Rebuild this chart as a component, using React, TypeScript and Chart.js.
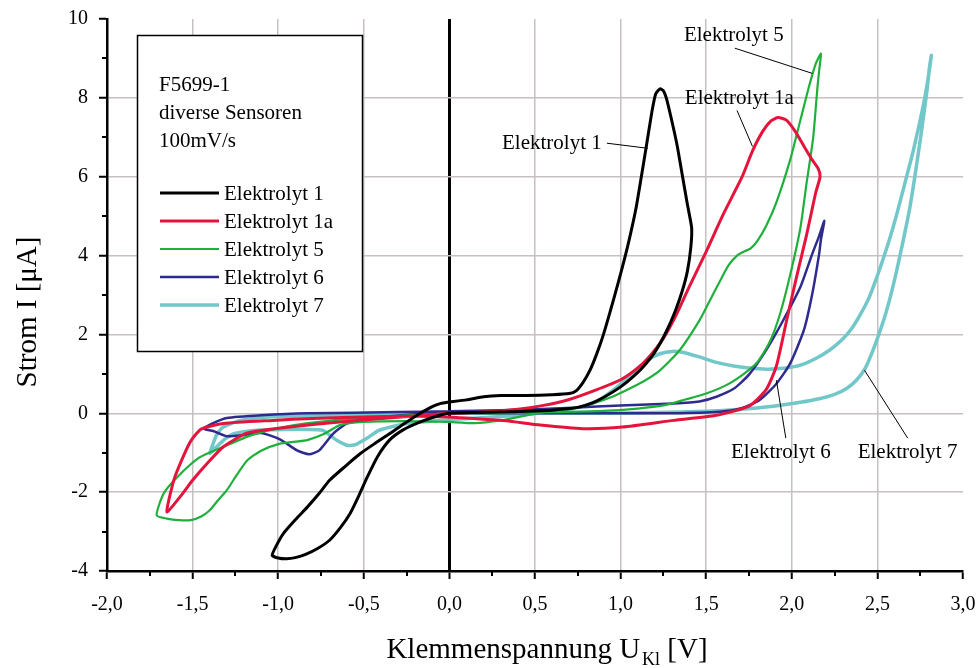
import React, { useEffect, useRef } from 'react';
import { Chart, registerables } from 'chart.js';
Chart.register(...registerables);

type P = [number, number];

const FONT = "'Liberation Serif', 'Times New Roman', serif";

const xTickValues = [-2, -1.5, -1, -0.5, 0, 0.5, 1, 1.5, 2, 2.5, 3];
const yTickValues = [-4, -2, 0, 2, 4, 6, 8, 10];
const xMinor = [-1.75, -1.25, -0.75, -0.25, 0.25, 0.75, 1.25, 1.75, 2.25, 2.75];
const yMinor = [-3, -1, 1, 3, 5, 7, 9];

const seriesNames = ['Elektrolyt 1', 'Elektrolyt 1a', 'Elektrolyt 5', 'Elektrolyt 6', 'Elektrolyt 7'];
const seriesColors = ['#000000', '#e5143c', '#1fb03c', '#2f2a8e', '#72c7c9'];
const seriesWidths = [3, 3, 2.2, 2.5, 3.5];

const elektrolyt1: P[] = [
  [0, 0.29], [0.1, 0.34], [0.2, 0.42], [0.3, 0.45], [0.45, 0.45], [0.6, 0.47], [0.7, 0.5], [0.74, 0.57],
  [0.78, 0.78], [0.82, 1.08], [0.86, 1.5], [0.9, 2.0], [0.96, 2.9], [1.01, 3.7], [1.05, 4.4], [1.09, 5.2],
  [1.125, 6.1], [1.155, 6.9], [1.185, 7.7], [1.205, 8.1], [1.23, 8.23], [1.25, 8.18], [1.27, 7.95], [1.3, 7.4],
  [1.33, 6.8], [1.36, 6.05], [1.39, 5.3], [1.415, 4.7], [1.41, 4.2], [1.39, 3.6], [1.36, 3.1], [1.32, 2.6],
  [1.27, 2.1], [1.2, 1.55], [1.13, 1.17], [1.06, 0.88], [1.0, 0.67], [0.92, 0.45], [0.84, 0.27], [0.75, 0.15],
  [0.6, 0.08], [0.45, 0.05], [0.3, 0.03], [0.15, 0.02], [0.0, 0.0], [-0.08, -0.08], [-0.17, -0.22],
  [-0.27, -0.42], [-0.35, -0.68], [-0.42, -1.1], [-0.48, -1.62], [-0.53, -2.1], [-0.58, -2.54], [-0.64, -2.92],
  [-0.7, -3.22], [-0.77, -3.43], [-0.84, -3.58], [-0.9, -3.66], [-0.95, -3.69], [-1.0, -3.67], [-1.035, -3.6],
  [-1.01, -3.35], [-0.97, -3.05], [-0.9, -2.7], [-0.83, -2.38], [-0.76, -2.03], [-0.7, -1.7], [-0.61, -1.35],
  [-0.52, -1.02], [-0.43, -0.75], [-0.35, -0.52], [-0.26, -0.25], [-0.17, 0.0], [-0.1, 0.17], [-0.05, 0.25], [0, 0.29],
];

const elektrolyt1a: P[] = [
  [0, 0.0], [0.2, 0.03], [0.4, 0.1], [0.55, 0.2], [0.7, 0.35], [0.85, 0.58], [1.0, 0.85], [1.1, 1.15],
  [1.18, 1.5], [1.25, 1.9], [1.32, 2.45], [1.4, 3.2], [1.5, 4.1], [1.6, 5.05], [1.71, 6.0], [1.77, 6.65],
  [1.83, 7.15], [1.88, 7.42], [1.92, 7.5], [1.97, 7.43], [2.02, 7.15], [2.07, 6.78], [2.12, 6.42], [2.155, 6.2],
  [2.165, 6.0], [2.14, 5.6], [2.115, 5.1], [2.085, 4.5], [2.03, 3.5], [1.97, 2.36], [1.91, 1.2], [1.85, 0.6],
  [1.75, 0.18], [1.56, -0.05], [1.31, -0.18], [1.01, -0.35], [0.78, -0.39], [0.53, -0.3], [0.33, -0.19],
  [0.14, -0.13], [-0.1, -0.08], [-0.44, -0.09], [-0.8, -0.13], [-1.03, -0.18], [-1.32, -0.26], [-1.45, -0.4],
  [-1.51, -0.7], [-1.56, -1.15], [-1.61, -1.7], [-1.65, -2.5], [-1.57, -2.1], [-1.5, -1.7], [-1.41, -1.25],
  [-1.32, -0.85], [-1.18, -0.5], [-0.93, -0.35], [-0.64, -0.22], [-0.3, -0.1], [0, 0.0],
];

const elektrolyt5: P[] = [
  [0, -0.22], [0.15, -0.25], [0.3, -0.18], [0.42, -0.08], [0.52, 0.0], [0.645, 0.08], [0.75, 0.15], [0.84, 0.25],
  [0.94, 0.4], [1.03, 0.58], [1.13, 0.8], [1.23, 1.09], [1.345, 1.6], [1.46, 2.35], [1.52, 2.85], [1.58, 3.35],
  [1.63, 3.75], [1.68, 4.0], [1.72, 4.1], [1.76, 4.18], [1.8, 4.38], [1.85, 4.75], [1.91, 5.35], [1.99, 6.42],
  [2.05, 7.43], [2.1, 8.28], [2.14, 8.87], [2.17, 9.12], [2.16, 8.7], [2.15, 8.28], [2.125, 7.0], [2.085, 5.8],
  [2.05, 4.7], [1.99, 3.5], [1.93, 2.5], [1.87, 1.8], [1.8, 1.3], [1.72, 1.0], [1.62, 0.72], [1.5, 0.5],
  [1.38, 0.35], [1.25, 0.2], [1.1, 0.12], [0.9, 0.06], [0.6, 0.03], [0.3, 0.0], [0, 0.0], [-0.35, -0.08],
  [-0.68, -0.18], [-0.97, -0.35], [-1.16, -0.56], [-1.32, -0.85], [-1.46, -1.12], [-1.59, -1.62], [-1.67, -2.04],
  [-1.71, -2.59], [-1.65, -2.67], [-1.58, -2.71], [-1.51, -2.71], [-1.45, -2.62], [-1.4, -2.46], [-1.35, -2.2],
  [-1.3, -1.95], [-1.24, -1.55], [-1.18, -1.19], [-1.1, -0.95], [-0.99, -0.77], [-0.9, -0.72], [-0.83, -0.68],
  [-0.73, -0.52], [-0.64, -0.3], [-0.5, -0.22], [-0.25, -0.2], [0, -0.22],
];

const elektrolyt6: P[] = [
  [0, 0.05], [0.3, 0.08], [0.5, 0.1], [0.72, 0.14], [1.0, 0.2], [1.31, 0.25], [1.46, 0.3], [1.56, 0.42],
  [1.66, 0.62], [1.75, 0.98], [1.85, 1.6], [1.95, 2.36], [2.05, 3.2], [2.12, 4.05], [2.16, 4.5], [2.19, 4.88],
  [2.17, 4.4], [2.16, 4.05], [2.12, 3.04], [2.07, 2.1], [1.99, 1.26], [1.91, 0.75], [1.81, 0.33], [1.7, 0.12],
  [1.58, 0.04], [1.3, 0.0], [1.0, 0.0], [0.5, 0.0], [0, 0.0], [-0.2, -0.03], [-0.48, -0.13], [-0.6, -0.26],
  [-0.68, -0.52], [-0.76, -0.94], [-0.82, -1.04], [-0.89, -0.94], [-0.99, -0.66], [-1.1, -0.5], [-1.2, -0.55],
  [-1.3, -0.58], [-1.38, -0.45], [-1.435, -0.39], [-1.38, -0.25], [-1.3, -0.12], [-1.1, -0.05], [-0.83, 0.0],
  [-0.3, 0.03], [0, 0.05],
];

const elektrolyt7: P[] = [
  [0.12, -0.13], [0.3, -0.08], [0.45, -0.03], [0.59, 0.03], [0.7, 0.1], [0.78, 0.18], [0.88, 0.35], [0.98, 0.67],
  [1.05, 0.95], [1.11, 1.17], [1.17, 1.38], [1.23, 1.51], [1.3, 1.57], [1.36, 1.55], [1.46, 1.43], [1.56, 1.29],
  [1.66, 1.2], [1.75, 1.15], [1.85, 1.12], [1.95, 1.14], [2.05, 1.22], [2.14, 1.39], [2.22, 1.6], [2.29, 1.85],
  [2.35, 2.15], [2.4, 2.5], [2.45, 2.92], [2.49, 3.37], [2.53, 3.87], [2.57, 4.4], [2.61, 5.0], [2.65, 5.66],
  [2.71, 6.67], [2.77, 7.85], [2.8, 8.6], [2.815, 9.08], [2.805, 8.8], [2.79, 8.2], [2.75, 6.92], [2.69, 5.23],
  [2.63, 3.96], [2.59, 3.2], [2.55, 2.55], [2.51, 2.02], [2.47, 1.55], [2.43, 1.15], [2.38, 0.85], [2.32, 0.63],
  [2.25, 0.48], [2.16, 0.37], [2.05, 0.28], [1.89, 0.18], [1.7, 0.1], [1.5, 0.05], [1.2, 0.02], [0.92, 0.0],
  [0.6, 0.0], [0.33, 0.0], [0, 0.02], [-0.3, -0.02], [-0.64, -0.05], [-1.03, -0.09], [-1.22, -0.18], [-1.32, -0.35],
  [-1.36, -0.55], [-1.38, -0.77], [-1.4, -1.02], [-1.36, -0.85], [-1.31, -0.65], [-1.26, -0.52], [-1.13, -0.43],
  [-0.95, -0.41], [-0.83, -0.41], [-0.74, -0.43], [-0.7, -0.55], [-0.66, -0.68], [-0.6, -0.81], [-0.55, -0.8],
  [-0.52, -0.73], [-0.47, -0.6], [-0.41, -0.43], [-0.25, -0.26], [-0.06, -0.18], [0.12, -0.13],
];

const seriesData: P[][] = [elektrolyt1, elektrolyt1a, elektrolyt5, elektrolyt6, elektrolyt7];

const annotationTexts = ['Elektrolyt 1', 'Elektrolyt 1a', 'Elektrolyt 5', 'Elektrolyt 6', 'Elektrolyt 7'];
const annotationAnchors: P[] = [[0.89, 6.85], [1.375, 7.99], [1.37, 9.59], [1.645, -0.99], [2.385, -0.99]];
const annotationAligns: CanvasTextAlign[] = ['right', 'left', 'left', 'left', 'left'];
const leaderFrom: P[] = [[0.92, 6.85], [1.68, 7.68], [1.667, 9.26], [1.91, 0.84], [2.425, 1.09]];
const leaderTo: P[] = [[1.16, 6.72], [1.77, 6.77], [2.12, 8.62], [1.965, -0.63], [2.677, -0.63]];

const legendHeader = ['F5699-1', 'diverse Sensoren', '100mV/s'];

const fmt = (v: number) => v.toFixed(1).replace('.', ',');

const decorPlugin = {
  id: 'decor',
  afterDraw(chart: any) {
    const ctx: CanvasRenderingContext2D = chart.ctx;
    const xs = chart.scales.x;
    const ys = chart.scales.y;
    const a = chart.chartArea;
    ctx.save();
    ctx.strokeStyle = '#000';
    ctx.lineWidth = 2;
    ctx.beginPath();
    for (const v of xMinor) {
      const px = Math.round(xs.getPixelForValue(v));
      ctx.moveTo(px, a.bottom);
      ctx.lineTo(px, a.bottom + 5);
    }
    for (const v of yMinor) {
      const py = Math.round(ys.getPixelForValue(v));
      ctx.moveTo(a.left - 5, py);
      ctx.lineTo(a.left, py);
    }
    ctx.stroke();

    // axis titles
    ctx.fillStyle = '#000';
    ctx.textBaseline = 'alphabetic';
    const big = `29px ${FONT}`;
    const small = `18px ${FONT}`;
    ctx.font = big;
    const p1 = 'Klemmenspannung U';
    const p3 = ' [V]';
    const w1 = ctx.measureText(p1).width;
    const w3 = ctx.measureText(p3).width;
    ctx.font = small;
    const w2 = ctx.measureText('Kl').width + 2;
    const total = w1 + w2 + w3;
    const cx = 547;
    const x0 = cx - total / 2;
    const by = 658;
    ctx.font = big;
    ctx.textAlign = 'left';
    ctx.fillText(p1, x0, by);
    ctx.font = small;
    ctx.fillText('Kl', x0 + w1 + 2, by + 7);
    ctx.font = big;
    ctx.fillText(p3, x0 + w1 + w2, by);

    ctx.save();
    ctx.translate(28, 312);
    ctx.rotate(-Math.PI / 2);
    ctx.textAlign = 'center';
    ctx.textBaseline = 'middle';
    ctx.font = big;
    ctx.fillText('Strom I [\u03BCA]', 0, 0);
    ctx.restore();

    // legend box
    ctx.fillStyle = '#fff';
    ctx.fillRect(137, 35, 225, 316);
    ctx.strokeStyle = '#000';
    ctx.lineWidth = 1.5;
    ctx.strokeRect(137.5, 35.5, 225, 316);
    ctx.fillStyle = '#000';
    ctx.font = `21px ${FONT}`;
    ctx.textAlign = 'left';
    ctx.textBaseline = 'middle';
    legendHeader.forEach((t, i) => ctx.fillText(t, 159, 85 + i * 28));
    seriesNames.forEach((n, i) => {
      const y = 193 + i * 28;
      ctx.strokeStyle = seriesColors[i];
      ctx.lineWidth = seriesWidths[i];
      ctx.beginPath();
      ctx.moveTo(160, y);
      ctx.lineTo(219, y);
      ctx.stroke();
      ctx.fillStyle = '#000';
      ctx.fillText(n, 224, y + 1);
    });

    // annotations
    ctx.strokeStyle = '#000';
    ctx.lineWidth = 1;
    annotationTexts.forEach((t, i) => {
      const [ax, ay] = annotationAnchors[i];
      ctx.textAlign = annotationAligns[i];
      ctx.textBaseline = 'middle';
      ctx.fillStyle = '#000';
      ctx.fillText(t, xs.getPixelForValue(ax), ys.getPixelForValue(ay));
      ctx.beginPath();
      ctx.moveTo(xs.getPixelForValue(leaderFrom[i][0]), ys.getPixelForValue(leaderFrom[i][1]));
      ctx.lineTo(xs.getPixelForValue(leaderTo[i][0]), ys.getPixelForValue(leaderTo[i][1]));
      ctx.stroke();
    });
    ctx.restore();
  },
};

export default function App() {
  const ref = useRef<HTMLCanvasElement>(null);
  useEffect(() => {
    const canvas = ref.current;
    if (!canvas) return;
    const chart = new Chart(canvas, {
      type: 'scatter',
      data: {
        datasets: seriesData.map((d, i) => ({
          label: seriesNames[i],
          data: d.map(([x, y]) => ({ x, y })),
          showLine: true,
          borderColor: seriesColors[i],
          backgroundColor: seriesColors[i],
          borderWidth: seriesWidths[i],
          pointRadius: 0,
          tension: 0.2,
          fill: false,
        })),
      },
      options: {
        animation: false,
        responsive: false,
        devicePixelRatio: 1,
        layout: { padding: { top: 19, right: 15, left: 0, bottom: 0 } },
        plugins: { legend: { display: false }, tooltip: { enabled: false } },
        scales: {
          x: {
            type: 'linear',
            min: -2,
            max: 3,
            afterBuildTicks: (s: any) => { s.ticks = xTickValues.map((v) => ({ value: v })); },
            afterFit: (s: any) => {
              s.height = 97;
              s.paddingLeft = 0;
              s.paddingRight = 0;
              s.paddingTop = 0;
              s.paddingBottom = 0;
            },
            ticks: {
              callback: (v: any) => fmt(Number(v)),
              font: { family: FONT, size: 20 },
              color: '#000',
              padding: 14,
              maxRotation: 0,
              autoSkip: false,
            },
            grid: {
              color: (c: any) => {
                const v = c.tick ? c.tick.value : null;
                if (v === 0) return '#000';
                if (v === -2 || v === 3) return 'rgba(0,0,0,0)';
                return '#c6c0c0';
              },
              lineWidth: (c: any) => (c.tick && c.tick.value === 0 ? 3 : 1.5),
              drawTicks: true,
              tickLength: 8,
              tickColor: '#000',
              tickWidth: 2,
            },
            border: { display: true, color: '#000', width: 2.5 },
          },
          y: {
            type: 'linear',
            min: -4,
            max: 10,
            afterBuildTicks: (s: any) => { s.ticks = yTickValues.map((v) => ({ value: v })); },
            afterFit: (s: any) => {
              s.width = 107;
              s.paddingLeft = 0;
              s.paddingRight = 0;
              s.paddingTop = 0;
              s.paddingBottom = 0;
            },
            ticks: {
              font: { family: FONT, size: 20 },
              color: '#000',
              padding: 11,
              autoSkip: false,
            },
            grid: {
              color: (c: any) => {
                const v = c.tick ? c.tick.value : null;
                if (v === 10 || v === -4) return 'rgba(0,0,0,0)';
                return '#c6c0c0';
              },
              lineWidth: 1.5,
              drawTicks: true,
              tickLength: 8,
              tickColor: '#000',
              tickWidth: 2,
            },
            border: { display: true, color: '#000', width: 2.5 },
          },
        },
      },
      plugins: [decorPlugin],
    } as any);
    return () => chart.destroy();
  }, []);
  return (
    <div style={{ position: 'fixed', left: 0, top: 0, width: 978, height: 668, background: '#fff' }}>
      <canvas ref={ref} width={978} height={668} style={{ display: 'block', width: 978, height: 668 }} />
    </div>
  );
}
